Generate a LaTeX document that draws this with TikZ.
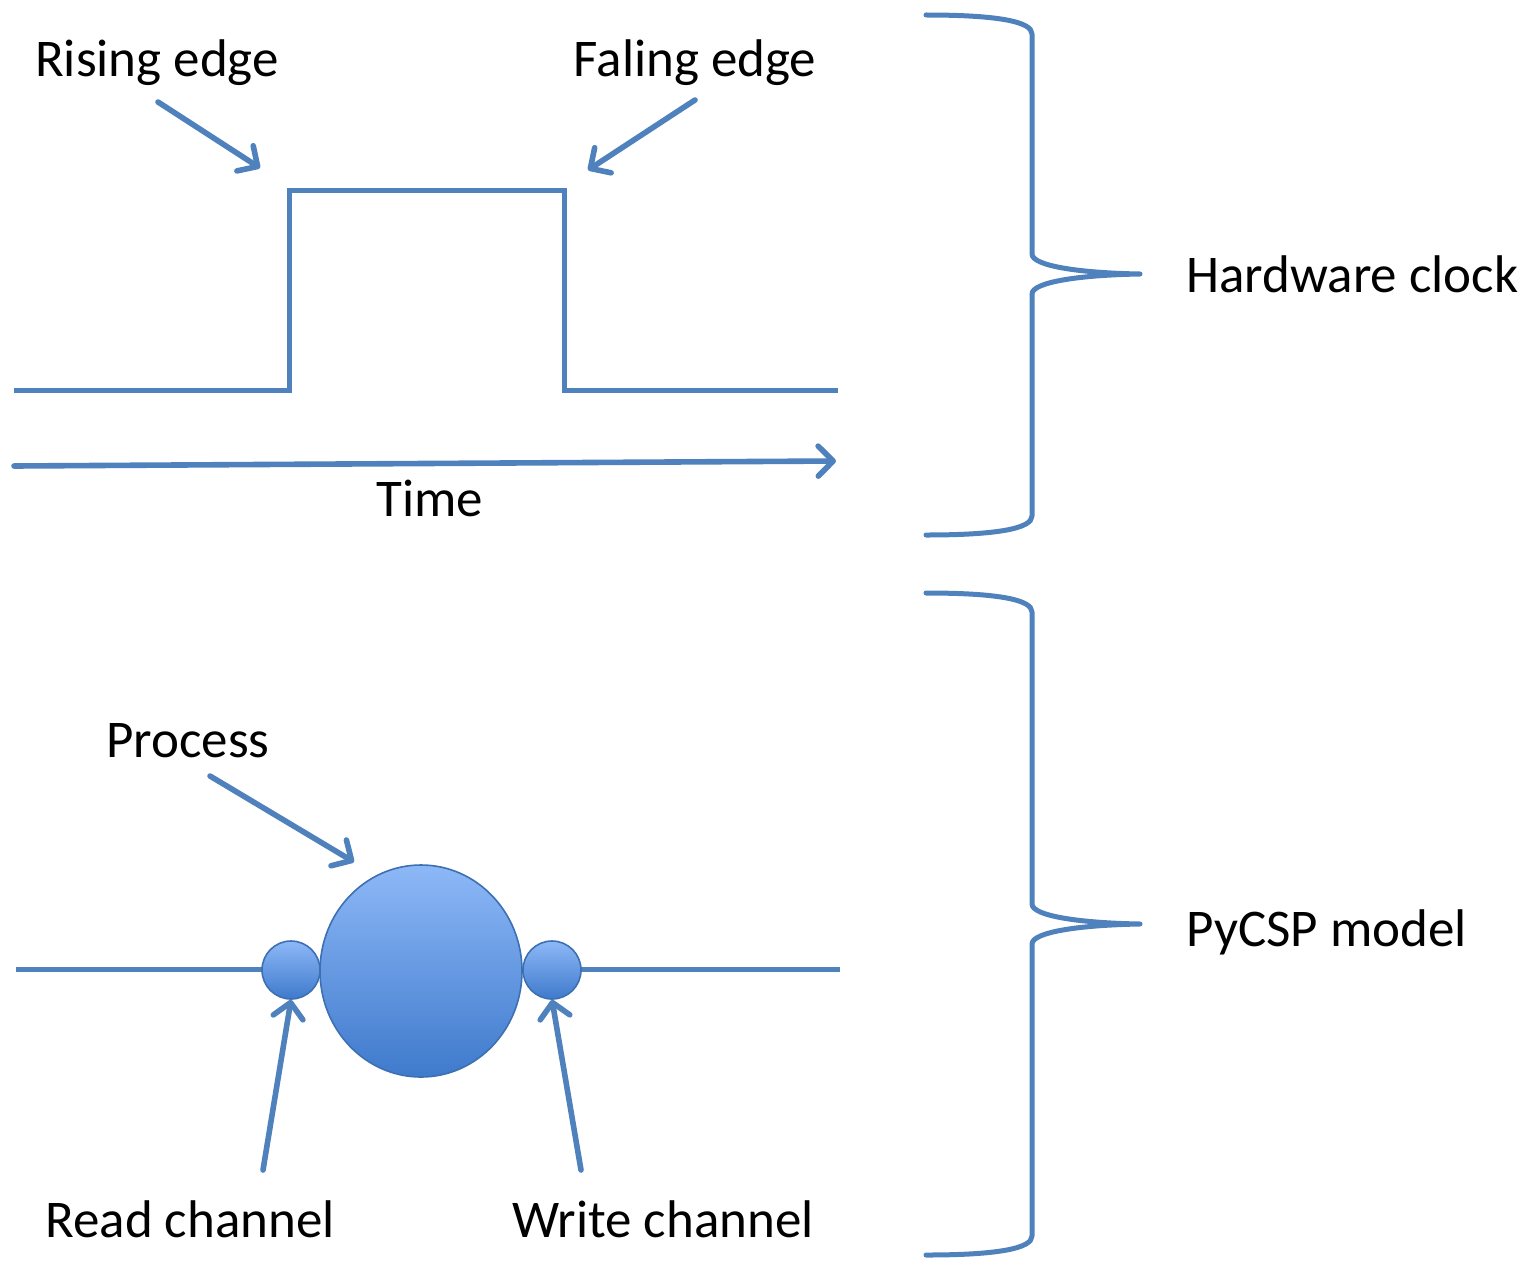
\documentclass[tikz,border=0pt]{standalone}
\usepackage{fontspec}
\setmainfont{Carlito}
\usetikzlibrary{arrows.meta,shapes.geometric}
\definecolor{lineblue}{HTML}{4F81BD}
\definecolor{circtop}{HTML}{8DB8F7}
\definecolor{circbot}{HTML}{3F7ACC}
\definecolor{circedge}{HTML}{3D70B2}
\tikzset{
  wire/.style={draw=lineblue, line width=2.5pt},
  pointer/.style={wire, line width=2.8pt, line cap=round, -{Straight Barb[length=7.5pt,width=15pt,line cap=round,line join=round]}},
  lbl/.style={font=\fontsize{26.5}{31}\selectfont, inner sep=0pt, text=black},
  ball/.style={draw=circedge, line width=0.8pt, top color=circtop, bottom color=circbot, inner sep=0pt},
  brace/.style={wire, line cap=round, line join=round}
}
\begin{document}
\begin{tikzpicture}[x=0.5pt,y=-0.5pt]
\useasboundingbox (0,0) rectangle (1529,1263);
% clock wave
\draw[wire] (14,390) -- (289,390) -- (289,190) -- (564,190) -- (564,390) -- (838,390);
% time axis
\coordinate (t0) at (14,466);
\coordinate (t1) at (836,461);
\draw[pointer] (t0) -- (t1);
\node[lbl] (time) at (430,498) {Time};
% edge labels
\node[lbl] (rise) at (157,63) {Rising edge};
\node[lbl] (fall) at (695,63) {Faling edge};
\coordinate (riseS) at (158,102);
\coordinate (riseE) at (260,168);
\coordinate (fallS) at (695,100);
\coordinate (fallE) at (588,170);
\draw[pointer] (riseS) -- (riseE);
\draw[pointer] (fallS) -- (fallE);
% braces
\draw[brace] (926,15) .. controls (1000,15) and (1032,22) .. (1032,34) -- (1032,254)
  .. controls (1032,266) and (1080,273) .. (1140,274)
  .. controls (1080,275) and (1032,282) .. (1032,294) -- (1032,516)
  .. controls (1032,528) and (1000,535) .. (926,535);
\node[lbl, anchor=west] (hw) at (1186,274) {Hardware clock};
\draw[brace] (926,593) .. controls (1000,593) and (1032,600) .. (1032,612) -- (1032,904)
  .. controls (1032,916) and (1080,923) .. (1140,924)
  .. controls (1080,925) and (1032,932) .. (1032,944) -- (1032,1236)
  .. controls (1032,1248) and (1000,1255) .. (926,1255);
\node[lbl, anchor=west] (pycsp) at (1186,932) {PyCSP model};
% PyCSP model
\coordinate (cl) at (16,969);
\coordinate (cr) at (840,969);
\draw[wire] (cl) -- (cr);
\node[ball, ellipse, minimum width=101pt, minimum height=106pt] (proc) at (421,971) {};
\node[ball, circle, minimum size=29pt] (rdc) at (291,970) {};
\node[ball, circle, minimum size=29pt] (wrc) at (552,970) {};
\node[lbl] (process) at (188,741) {Process};
\coordinate (procS) at (210,776);
\coordinate (procE) at (354,862);
\draw[pointer] (procS) -- (procE);
\coordinate (rdS) at (263,1170);
\coordinate (wrS) at (581,1170);
\draw[pointer] (rdS) -- (rdc.south);
\draw[pointer] (wrS) -- (wrc.south);
\node[lbl] (read) at (190,1219) {Read channel};
\node[lbl] (write) at (663,1219) {Write channel};
\end{tikzpicture}
\end{document}
